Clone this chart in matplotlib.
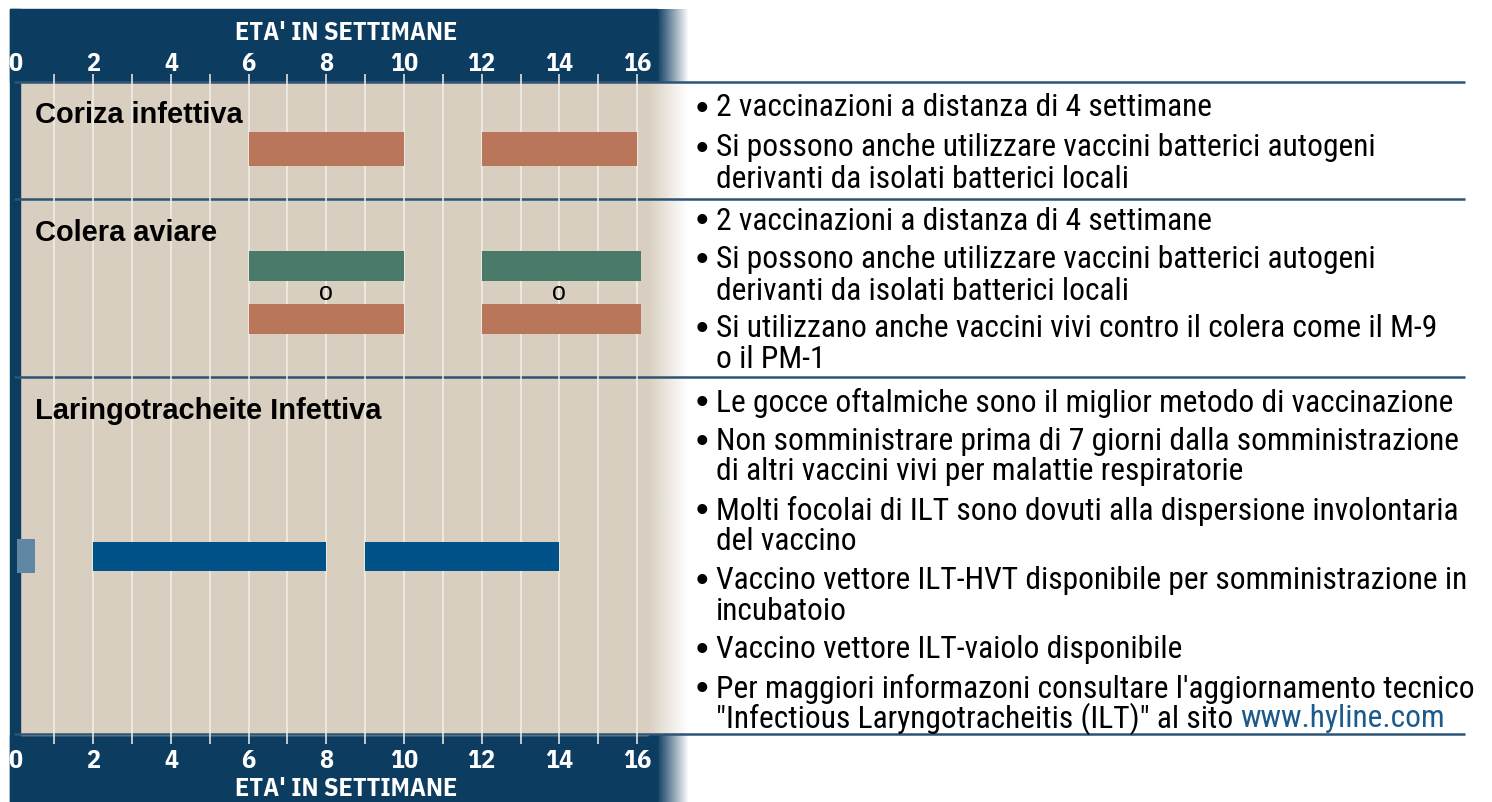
import numpy as np
import matplotlib
matplotlib.use("Agg")
import matplotlib.pyplot as plt
from matplotlib.colors import to_rgb

# --- dati ---
settimane_tick = [0, 2, 4, 6, 8, 10, 12, 14, 16]
settimane_griglia = list(range(1, 17))

coriza_barre = [(6, 10), (12, 16)]
colera_verde = [(6, 10), (12, 16.1)]
colera_arancio = [(6, 10), (12, 16.1)]
colera_o = [8, 14]
ilt_incubatoio = [(0.05, 0.5)]
ilt_barre = [(2, 8), (9, 14)]

malattie = ["Coriza infettiva", "Colera aviare", "Laringotracheite Infettiva"]
titolo_asse = "ETA' IN SETTIMANE"

note_coriza = [
    ["2 vaccinazioni a distanza di 4 settimane"],
    ["Si possono anche utilizzare vaccini batterici autogeni",
     "derivanti da isolati batterici locali"],
]
note_colera = [
    ["2 vaccinazioni a distanza di 4 settimane"],
    ["Si possono anche utilizzare vaccini batterici autogeni",
     "derivanti da isolati batterici locali"],
    ["Si utilizzano anche vaccini vivi contro il colera come il M-9",
     "o il PM-1"],
]
note_ilt = [
    ["Le gocce oftalmiche sono il miglior metodo di vaccinazione"],
    ["Non somministrare prima di 7 giorni dalla somministrazione",
     "di altri vaccini vivi per malattie respiratorie"],
    ["Molti focolai di ILT sono dovuti alla dispersione involontaria",
     "del vaccino"],
    ["Vaccino vettore ILT-HVT disponibile per somministrazione in",
     "incubatoio"],
    ["Vaccino vettore ILT-vaiolo disponibile"],
    ["Per maggiori informazoni consultare l'aggiornamento tecnico",
     "\"Infectious Laryngotracheitis (ILT)\" al sito "],
]
link = "www.hyline.com"

# --- colori ---
BLU_SCURO = "#0d3c61"
BEIGE = "#d9cfc1"
ARANCIO = "#b9765b"
VERDE = "#4a7b6a"
BLU = "#02528a"
AZZURRO = "#5f87a3"
LINEA = "#2c5475"

FONT_TESTO = ["Roboto Condensed", "DejaVu Sans"]
FONT_COND_B = ["IBM Plex Sans Condensed", "DejaVu Sans"]
FONT_TITOLI = ["Liberation Sans", "DejaVu Sans"]

W, H = 1492, 803
PX_W0 = 15.5      # pixel della settimana 0
PX_SETT = 38.85   # pixel per settimana

fig = plt.figure(figsize=(W / 100, H / 100), dpi=100)
renderer = fig.canvas.get_renderer()


def calibra(testi, famiglia, peso, larghezza_px):
    """dimensione del font perche' i testi siano larghi in tutto larghezza_px"""
    w = 0
    for testo in testi:
        t = fig.text(0, 0, testo, fontsize=20, family=famiglia, fontweight=peso)
        w += t.get_window_extent(renderer).width
        t.remove()
    return 20 * larghezza_px / w


SZ_TESTO = calibra(["2 vaccinazioni a distanza di 4 settimane",
                    "Si possono anche utilizzare vaccini batterici autogeni",
                    "Le gocce oftalmiche sono il miglior metodo di vaccinazione",
                    "Per maggiori informazoni consultare l'aggiornamento tecnico",
                    "Vaccino vettore ILT-vaiolo disponibile",
                    "Non somministrare prima di 7 giorni dalla somministrazione"],
                   FONT_TESTO, "normal", 472 + 662 + 744 + 757 + 465 + 759)
SZ_TITOLI = calibra(["Laringotracheite Infettiva"], FONT_TITOLI, "bold", 346)
SZ_ASSE = calibra([titolo_asse], FONT_COND_B, "bold", 223)

bg = fig.add_axes([0, 0, 1, 1])
bg.set_xlim(0, W)
bg.set_ylim(H, 0)
bg.axis("off")


def sfumatura(x0, x1, y0, y1, colore):
    c = to_rgb(colore)
    n = 64
    img = np.ones((1, n, 4))
    img[0, :, :3] = c
    img[0, :, 3] = np.linspace(1, 0, n)
    bg.imshow(img, extent=(x0, x1, y1, y0), aspect="auto", zorder=1,
              interpolation="bilinear")


# pannelli blu
bg.add_patch(plt.Rectangle((10, 10), 647, 73, color=BLU_SCURO, zorder=1))
sfumatura(657, 689, 10, 83, BLU_SCURO)
bg.add_patch(plt.Rectangle((10, 736), 647, 67, color=BLU_SCURO, zorder=1))
sfumatura(657, 689, 736, 803, BLU_SCURO)
bg.add_patch(plt.Rectangle((10, 10), 10, 793, color=BLU_SCURO, zorder=3))
# area beige
bg.add_patch(plt.Rectangle((20, 83), 628, 653, color=BEIGE, zorder=1))
sfumatura(648, 688, 83, 736, BEIGE)
bg.set_xlim(0, W)
bg.set_ylim(H, 0)

# linee orizzontali
for y in [83, 200, 378, 735]:
    bg.plot([14, 1465], [y, y], color=LINEA, lw=1.8, zorder=4,
            solid_capstyle="butt")

# --- asse delle settimane ---
ax = fig.add_axes([0, 0, 1, 1])
ax.set_xlim(-PX_W0 / PX_SETT, (W - PX_W0) / PX_SETT)
ax.set_ylim(H, 0)
ax.axis("off")
ax.patch.set_alpha(0)

ax.vlines(settimane_griglia, 75, 745, color="#f4efe8", lw=1.1, zorder=2)

for s in settimane_tick:
    for y in [64, 761]:
        ax.text(s, y, str(s), color="white", fontsize=SZ_ASSE,
                fontweight="bold", ha="center", va="center",
                family=FONT_COND_B, zorder=5)
for y in [33, 789]:
    ax.text(8.5, y, titolo_asse, color="white", fontsize=SZ_ASSE,
            fontweight="bold", ha="center", va="center", family=FONT_COND_B,
            zorder=5)


def barre(lista, y, h, colore):
    ax.broken_barh([(a, b - a) for a, b in lista], (y, h), facecolors=colore,
                   zorder=3)


barre(coriza_barre, 133, 34, ARANCIO)
barre(colera_verde, 252, 30, VERDE)
barre(colera_arancio, 305, 30, ARANCIO)
for s in colera_o:
    ax.text(s, 293, "o", fontsize=18, ha="center", va="center", zorder=5,
            family=FONT_TITOLI)
barre(ilt_incubatoio, 540, 34, AZZURRO)
barre(ilt_barre, 543, 29, BLU)

for nome, y in zip(malattie, [115, 233, 411]):
    ax.text(35, y, nome, fontsize=SZ_TITOLI, fontweight="bold", ha="left",
            va="center", family=FONT_TITOLI, zorder=5, transform=bg.transData)


# --- note a destra ---
def note(blocchi, y_righe):
    i = 0
    ultimo = None
    for blocco in blocchi:
        for j, riga in enumerate(blocco):
            y = y_righe[i] + 2
            if j == 0:
                bg.text(702, y + 1, "\u2022", fontsize=SZ_TESTO * 1.15,
                        ha="center", va="center", family=FONT_TITOLI,
                        zorder=5)
            ultimo = bg.text(716, y, riga, fontsize=SZ_TESTO, ha="left",
                             va="center", family=FONT_TESTO, zorder=5)
            i += 1
    return ultimo


note(note_coriza, [106, 146, 177])
note(note_colera, [219, 258, 290, 327, 358])
t = note(note_ilt, [401, 440, 470, 509, 540, 579, 610, 648, 687, 717])
bg.annotate(link, xy=(1, 0.5), xycoords=t, ha="left", va="center",
            fontsize=SZ_TESTO, color="#1d5a8c", family=FONT_TESTO, zorder=5)

fig.savefig("out.png", dpi=100)
